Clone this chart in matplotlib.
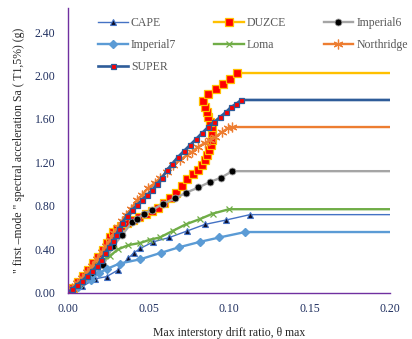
import matplotlib
matplotlib.use("Agg")
import matplotlib.pyplot as plt

plt.rcParams['font.family'] = ['Liberation Serif', 'DejaVu Serif']

# IDA curves: max drift ratio vs Sa(T1,5%)
cape_x = [0, 0.009, 0.017, 0.024, 0.031, 0.0375, 0.041, 0.045, 0.053, 0.063, 0.074, 0.085, 0.098, 0.113]
cape_y = [0, 0.06, 0.13, 0.15, 0.21, 0.32, 0.37, 0.41, 0.47, 0.51, 0.57, 0.63, 0.67, 0.72]

duzce_x = [0, 0.0031, 0.0062, 0.0093, 0.0124, 0.0155, 0.0186, 0.0217, 0.0242, 0.0261, 0.0280,
           0.0304, 0.0329, 0.0366, 0.0404, 0.0441, 0.0484, 0.0522, 0.0559, 0.0596, 0.0634,
           0.0671, 0.0708, 0.0739, 0.0776, 0.0807, 0.0832, 0.0851, 0.0863, 0.0876, 0.0888,
           0.0894, 0.0894, 0.0894, 0.0882, 0.0870, 0.0863, 0.0851, 0.0839, 0.0870, 0.0919,
           0.0963, 0.1006, 0.1050]
duzce_y = [0, 0.046, 0.101, 0.156, 0.211, 0.276, 0.331, 0.395, 0.460, 0.515, 0.561,
           0.589, 0.616, 0.644, 0.671, 0.699, 0.726, 0.754, 0.782, 0.828, 0.874,
           0.920, 0.984, 1.048, 1.094, 1.131, 1.177, 1.223, 1.269, 1.315, 1.361,
           1.407, 1.471, 1.526, 1.572, 1.618, 1.664, 1.710, 1.766, 1.830, 1.876,
           1.922, 1.968, 2.023]

imp6_x = [0, 0.0075, 0.014, 0.022, 0.028, 0.0335, 0.0396, 0.043, 0.047, 0.052, 0.059, 0.0665,
          0.073, 0.081, 0.088, 0.095, 0.102]
imp6_y = [0, 0.08, 0.165, 0.26, 0.43, 0.53, 0.65, 0.68, 0.73, 0.76, 0.82, 0.87,
          0.92, 0.97, 1.02, 1.06, 1.12]

imp7_x = [0, 0.006, 0.014, 0.019, 0.024, 0.032, 0.045, 0.058, 0.069, 0.082, 0.094, 0.110]
imp7_y = [0, 0.05, 0.12, 0.18, 0.22, 0.27, 0.31, 0.37, 0.42, 0.47, 0.51, 0.56]

loma_x = [0, 0.006, 0.012, 0.018, 0.026, 0.031, 0.0375, 0.045, 0.051, 0.057, 0.065, 0.073,
          0.082, 0.090, 0.100]
loma_y = [0, 0.08, 0.165, 0.27, 0.34, 0.40, 0.44, 0.46, 0.49, 0.51, 0.57, 0.63,
          0.68, 0.73, 0.77]

north_x = [0, 0.0025, 0.0056, 0.0087, 0.0118, 0.0149, 0.0180, 0.0211, 0.0236, 0.0261, 0.0286,
           0.0311, 0.0335, 0.0360, 0.0391, 0.0429, 0.0460, 0.0497, 0.0540, 0.0571, 0.0615,
           0.0652, 0.0696, 0.0739, 0.0770, 0.0807, 0.0851, 0.0882, 0.0913, 0.0957, 0.0994,
           0.1019]
north_y = [0, 0.046, 0.092, 0.138, 0.193, 0.248, 0.313, 0.377, 0.432, 0.487, 0.552,
           0.607, 0.662, 0.717, 0.772, 0.855, 0.901, 0.966, 1.011, 1.057, 1.113,
           1.177, 1.223, 1.269, 1.297, 1.343, 1.379, 1.407, 1.434, 1.480, 1.517,
           1.526]

super_x = [0, 0.0025, 0.0056, 0.0087, 0.0118, 0.0149, 0.0180, 0.0205, 0.0230, 0.0255, 0.0280,
           0.0298, 0.0317, 0.0335, 0.0366, 0.0398, 0.0429, 0.0460, 0.0491, 0.0522, 0.0553,
           0.0584, 0.0615, 0.0646, 0.0683, 0.0720, 0.0758, 0.0795, 0.0832, 0.0870, 0.0907,
           0.0944, 0.0981, 0.1012, 0.1043, 0.1075]
super_y = [0, 0.037, 0.074, 0.110, 0.156, 0.202, 0.248, 0.303, 0.368, 0.423, 0.478,
           0.533, 0.589, 0.644, 0.708, 0.763, 0.809, 0.855, 0.901, 0.947, 1.002,
           1.057, 1.131, 1.186, 1.251, 1.306, 1.361, 1.416, 1.471, 1.526, 1.572,
           1.618, 1.664, 1.710, 1.738, 1.775]

x_end = 0.20

fig = plt.figure(figsize=(4.12, 3.39), dpi=100)
ax = fig.add_axes([0.165, 0.136, 0.782, 0.84])


def draw(x, y, label, **kw):
    # curve goes flat out to the end of the axis, no marker on the last point
    xs = list(x) + [x_end]
    ys = list(y) + [y[-1]]
    return ax.plot(xs, ys, label=label, markevery=slice(0, len(x)), **kw)[0]


h_cape = draw(cape_x, cape_y, "CAPE", color="#4472C4", lw=1.0, marker="^", ms=4.5,
              mfc="#0d0d26", mec="#4472C4", mew=0.8)
h_duzce = draw(duzce_x, duzce_y, "DUZCE", color="#FFC000", lw=1.7, marker="s", ms=5.5,
               mfc="#FF0000", mec="#FFC000", mew=0.9)
h_imp6 = draw(imp6_x, imp6_y, "Imperial6", color="#A5A5A5", lw=1.7, marker="o", ms=5,
              mfc="black", mec="#A5A5A5", mew=0.6)
h_imp7 = draw(imp7_x, imp7_y, "Imperial7", color="#5B9BD5", lw=1.7, marker="D", ms=4,
              mfc="#5B9BD5", mec="#5B9BD5")
h_loma = draw(loma_x, loma_y, "Loma", color="#70AD47", lw=1.7, marker="x", ms=5,
              mec="#70AD47", mew=0.9)
h_north = draw(north_x, north_y, "Northridge", color="#ED7D31", lw=1.7, marker=(6, 2, 0),
               ms=7, mec="#ED7D31", mew=0.9)
h_super = draw(super_x, super_y, "SUPER", color="#2E5C99", lw=1.9, marker="s", ms=3.6,
               mfc="#FF0000", mec="#2E5C99", mew=0.9)

ax.set_xlim(0, 0.20)
ax.set_ylim(0, 2.62)
ax.set_xticks([0, 0.05, 0.10, 0.15, 0.20])
ax.set_yticks([0, 0.4, 0.8, 1.2, 1.6, 2.0, 2.4])
ax.set_xticklabels(["0.00", "0.05", "0.10", "0.15", "0.20"])
ax.set_yticklabels(["0.00", "0.40", "0.80", "1.20", "1.60", "2.00", "2.40"])
ax.tick_params(length=0, labelsize=8.5, labelcolor="#1F2F5F")
ax.tick_params(axis="y", pad=9)
ax.tick_params(axis="x", pad=7)
for s in ["top", "right"]:
    ax.spines[s].set_visible(False)
for s in ["left", "bottom"]:
    ax.spines[s].set_color("#7030A0")
    ax.spines[s].set_linewidth(1.0)

ax.set_xlabel("Max interstory drift ratio, θ max", fontsize=8.5, color="#262626", labelpad=9)
ax.set_ylabel('" first –mode " spectral acceleration Sa ( T1,5%) (g)', fontsize=8.5,
              color="#262626", labelpad=7)

handles = [h_cape, h_imp7, h_super, h_duzce, h_loma, h_imp6, h_north]
ax.legend(handles=handles, loc="upper left", bbox_to_anchor=(0.08, 0.985), ncol=3,
          frameon=False, fontsize=8.5, handlelength=2.5, columnspacing=3.2,
          handletextpad=0.25, labelspacing=0.85, borderaxespad=0, labelcolor="#595959")

fig.savefig("out.png", dpi=100)
